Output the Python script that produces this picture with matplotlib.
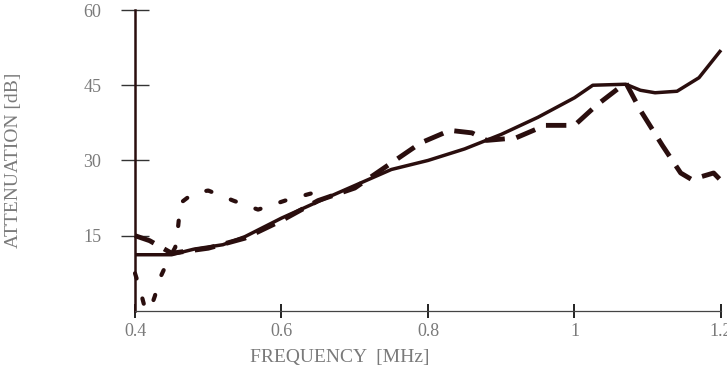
import matplotlib.pyplot as plt

# frequency [MHz] vs attenuation [dB]
f_solid = [0.40, 0.45, 0.48, 0.52, 0.55, 0.60, 0.65, 0.70, 0.75, 0.80, 0.85, 0.90, 0.95, 1.00, 1.025, 1.07, 1.09, 1.11, 1.14, 1.17, 1.20]
a_solid = [11.2, 11.2, 12.3, 13.2, 14.8, 18.5, 21.8, 25.0, 28.2, 30.0, 32.3, 35.2, 38.6, 42.5, 45.0, 45.2, 44.0, 43.5, 43.8, 46.5, 52.0]

f_dash = [0.40, 0.42, 0.45, 0.50, 0.55, 0.60, 0.65, 0.70, 0.75, 0.79, 0.83, 0.86, 0.88, 0.92, 0.96, 1.00, 1.03, 1.07, 1.09, 1.12, 1.145, 1.16, 1.19, 1.20]
a_dash = [15.0, 14.0, 11.5, 12.5, 14.5, 18.0, 22.0, 24.5, 29.5, 33.5, 36.0, 35.5, 34.0, 34.5, 37.0, 37.0, 41.0, 45.5, 40.0, 33.0, 27.5, 26.2, 27.5, 26.0]

f_dot = [0.40, 0.407, 0.412, 0.42, 0.427, 0.434, 0.445, 0.455, 0.459, 0.462, 0.48, 0.50, 0.534, 0.568, 0.605, 0.64]
a_dot = [7.5, 4.2, 1.4, 0.0, 2.9, 6.5, 10.0, 12.7, 17.0, 21.5, 23.5, 24.0, 22.0, 20.2, 22.0, 23.4]

ink = '#2a0e0e'
grey = '#7a7a7a'

plt.rcParams['font.family'] = ['Liberation Serif', 'DejaVu Serif']
fig = plt.figure(figsize=(7.27, 3.71), dpi=100)
ax = fig.add_axes([0.1857, 0.162, 0.806, 0.811])

ax.plot(f_solid, a_solid, color=ink, lw=2.5, solid_capstyle='butt', clip_on=False)
ax.plot(f_dash, a_dash, color=ink, lw=3.5, dashes=(4.2, 2.4), clip_on=False)
ax.plot(f_dot, a_dot, color=ink, lw=3.0, dashes=(1.3, 5.0), dash_capstyle='round', clip_on=False)

ax.set_xlim(0.4, 1.2)
ax.set_ylim(0, 60)
ax.set_xticks([0.4, 0.6, 0.8, 1.0, 1.2])
ax.set_xticklabels(['0.4', '0.6', '0.8', '1', '1.2'])
ax.set_yticks([15, 30, 45, 60])

for s in ['top', 'right']:
    ax.spines[s].set_visible(False)
ax.spines['left'].set_color(ink)
ax.spines['left'].set_linewidth(1.8)
ax.spines['bottom'].set_color('#444444')
ax.spines['bottom'].set_linewidth(0.9)

ax.tick_params(axis='y', direction='inout', length=19.5, width=1.0, color='#333333',
               labelsize=13, labelcolor=grey, pad=14.5)
ax.tick_params(axis='x', direction='inout', length=10, width=1.4, color='#222222',
               labelsize=13, labelcolor=grey, pad=4)

ax.set_xlabel('FREQUENCY  [MHz]', fontsize=14, color=grey)
ax.set_ylabel('ATTENUATION [dB]', fontsize=14, color=grey)
ax.xaxis.set_label_coords(0.35, -0.126)
ax.yaxis.set_label_coords(-0.192, 0.5)

fig.savefig('out.png', dpi=100)
